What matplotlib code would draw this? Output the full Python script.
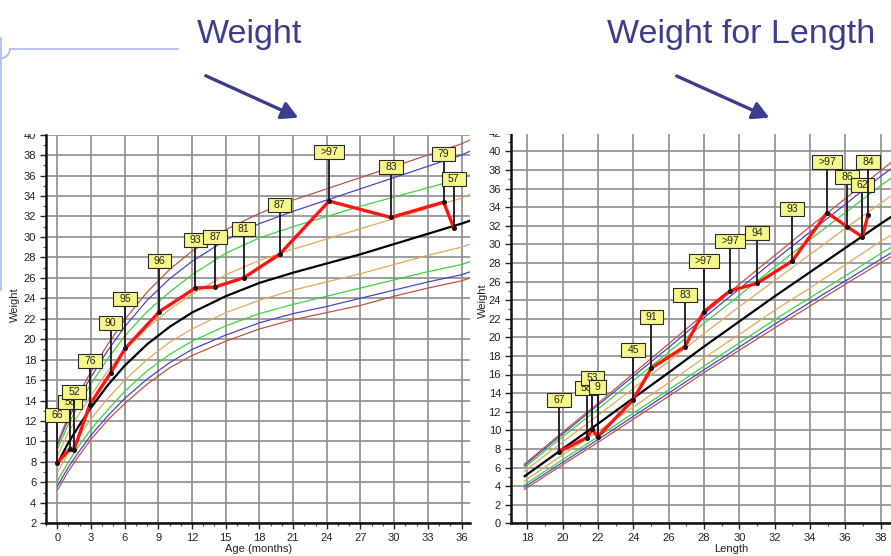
import matplotlib
matplotlib.use("Agg")
import matplotlib.pyplot as plt
import matplotlib.transforms as mtransforms
from matplotlib.patches import Rectangle, FancyArrowPatch, Arc
from matplotlib.ticker import MultipleLocator
from matplotlib.lines import Line2D

plt.rcParams['font.family'] = ['Liberation Sans', 'DejaVu Sans']

# ---------------- Weight-for-age percentile curves (lb) ----------------
age_grid = [0, 1, 2, 3, 4.5, 6, 8, 10, 12, 15, 18, 21, 24, 27, 30, 33, 36, 36.8]
wfa_p3  = [5.2, 7.1, 8.7, 10.2, 12.1, 13.7, 15.6, 17.2, 18.4, 19.8, 21.0, 21.9, 22.6, 23.3, 24.2, 25.0, 25.7, 26.0]
wfa_p5  = [5.6, 7.5, 9.1, 10.6, 12.5, 14.2, 16.1, 17.7, 19.0, 20.4, 21.6, 22.5, 23.2, 24.0, 24.8, 25.6, 26.3, 26.6]
wfa_p10 = [6.1, 8.0, 9.7, 11.2, 13.1, 14.9, 16.9, 18.5, 19.8, 21.3, 22.5, 23.4, 24.2, 25.0, 25.8, 26.6, 27.3, 27.6]
wfa_p25 = [6.95, 8.9, 10.6, 12.2, 14.2, 16.0, 18.0, 19.7, 21.0, 22.6, 23.8, 24.8, 25.6, 26.4, 27.3, 28.2, 29.0, 29.3]
wfa_p50 = [7.8, 9.9, 11.65, 13.3, 15.5, 17.4, 19.5, 21.2, 22.6, 24.2, 25.5, 26.5, 27.4, 28.3, 29.3, 30.3, 31.3, 31.6]
wfa_p75 = [8.55, 10.9, 12.8, 14.5, 16.9, 18.9, 21.1, 22.9, 24.4, 26.3, 27.7, 28.8, 29.8, 30.8, 31.8, 32.8, 33.8, 34.2]
wfa_p90 = [9.2, 11.7, 13.8, 15.6, 18.1, 20.3, 22.7, 24.6, 26.3, 28.4, 29.9, 31.0, 32.0, 33.0, 33.9, 34.8, 35.7, 36.1]
wfa_p95 = [9.6, 12.2, 14.4, 16.3, 18.9, 21.2, 23.8, 25.9, 27.6, 29.7, 31.3, 32.5, 33.6, 34.7, 35.8, 36.9, 38.0, 38.4]
wfa_p97 = [9.8, 12.5, 14.8, 16.8, 19.5, 21.9, 24.6, 26.8, 28.6, 30.7, 32.3, 33.6, 34.7, 35.8, 36.9, 38.0, 39.1, 39.5]

# Patient measurements: age (months), weight (lb), percentile tag, tag height (lb)
visit_age   = [0, 1.15, 1.5, 2.9, 4.75, 6.05, 9.1, 12.3, 14.05, 16.6, 19.8, 24.2, 29.7, 34.4, 35.3]
visit_wt    = [7.9, 9.3, 9.2, 13.6, 16.7, 19.1, 22.7, 25.0, 25.1, 26.0, 28.3, 33.5, 31.9, 33.4, 30.9]
visit_pct   = ["66", "58", "52", "76", "90", "95", "96", "93", "87", "81", "87", ">97", "83", "79", "57"]
visit_tag_y = [12.6, 13.9, 14.85, 17.9, 21.6, 23.95, 27.6, 29.7, 29.95, 30.8, 33.1, 38.3, 36.8, 38.1, 35.7]

# ---------------- Weight-for-length percentile curves (lb) ----------------
len_grid = [17.8, 20, 22, 24, 26, 28, 30, 32, 34, 36, 38, 38.8]
wfl_p3  = [3.6, 6.3, 8.7, 11.2, 13.65, 16.2, 18.6, 21.0, 23.35, 25.7, 28.0, 28.9]
wfl_p5  = [3.85, 6.55, 9.0, 11.5, 14.0, 16.5, 18.95, 21.4, 23.75, 26.05, 28.4, 29.3]
wfl_p10 = [4.1, 6.85, 9.3, 11.85, 14.35, 16.9, 19.4, 21.9, 24.25, 26.6, 29.0, 29.9]
wfl_p25 = [4.5, 7.35, 9.9, 12.5, 15.1, 17.8, 20.3, 22.9, 25.3, 27.8, 30.3, 31.2]
wfl_p50 = [5.0, 8.0, 10.7, 13.45, 16.2, 19.0, 21.7, 24.4, 27.0, 29.6, 32.2, 33.2]
wfl_p75 = [5.55, 8.75, 11.6, 14.5, 17.4, 20.4, 23.3, 26.1, 28.9, 31.7, 34.4, 35.5]
wfl_p90 = [5.95, 9.3, 12.3, 15.35, 18.4, 21.5, 24.5, 27.55, 30.5, 33.4, 36.3, 37.4]
wfl_p95 = [6.15, 9.6, 12.7, 15.8, 18.9, 22.1, 25.2, 28.3, 31.3, 34.3, 37.3, 38.4]
wfl_p97 = [6.3, 9.8, 12.9, 16.1, 19.3, 22.5, 25.7, 28.8, 31.9, 34.9, 37.9, 39.1]

visit_len     = [19.8, 21.36, 21.68, 21.98, 24.0, 25.03, 26.92, 27.99, 29.47, 31.0, 33.0, 34.97, 36.1, 36.97, 37.29]
visit_wt_l    = [7.7, 9.2, 10.1, 9.3, 13.3, 16.7, 19.0, 22.75, 24.98, 25.8, 28.2, 33.4, 31.9, 30.8, 33.15]
visit_pct_l   = ["67", "58", "53", "9", "45", "91", "83", ">97", ">97", "94", "93", ">97", "86", "62", "84"]
visit_tag_y_l = [13.3, 14.55, 15.6, 14.7, 18.6, 22.2, 24.5, 28.2, 30.35, 31.25, 33.8, 38.9, 37.2, 36.4, 38.8]

# ---------------- styling ----------------
C_BROWN = '#bc5448'
C_BLUE = '#4b46c8'
C_GREEN = '#3fd23f'
C_ORANGE = '#e6a856'
C_TITLE = '#3b3e8c'
GRID = '#8e8e8e'

W, H = 891, 556
fig = plt.figure(figsize=(W / 100, H / 100), dpi=100)


def fbox(x0, y0, x1, y1):
    """pixel box (top-left origin) -> figure fraction rect"""
    return [x0 / W, 1 - y1 / H, (x1 - x0) / W, (y1 - y0) / H]


def style_axes(ax, xmaj, xmin_step, ymaj):
    for s in ('top', 'right'):
        ax.spines[s].set_visible(False)
    for s in ('left', 'bottom'):
        ax.spines[s].set_linewidth(1.8)
        ax.spines[s].set_color('#111111')
    ax.xaxis.set_major_locator(MultipleLocator(xmaj))
    ax.xaxis.set_minor_locator(MultipleLocator(xmin_step))
    ax.yaxis.set_major_locator(MultipleLocator(ymaj))
    ax.yaxis.set_minor_locator(MultipleLocator(1))
    ax.grid(True, which='major', color=GRID, lw=1.2, zorder=0)
    ax.set_axisbelow(True)
    ax.tick_params(which='major', length=4, width=1, labelsize=8, colors='#222222', pad=3)
    ax.tick_params(which='minor', length=2, width=0.8, colors='#555555')


def draw_curves(ax, xs, curves):
    for ys, col, lw in curves:
        ax.plot(xs, ys, color=col, lw=lw, zorder=2, solid_capstyle='butt')


def draw_visits(ax, xs, ys, tags, tag_ys):
    ax.plot(xs, ys, color='#ff1414', lw=2.4, zorder=4, solid_joinstyle='round')
    ax.plot(xs, ys, 'o', color='#111111', ms=2.6, zorder=5)
    for i, (x, y, t, ty) in enumerate(zip(xs, ys, tags, tag_ys)):
        z = 6 + i * 0.01
        ax.plot([x, x], [y, ty], color='#1c1424', lw=1.3, zorder=z, clip_on=False)
        wpx = 11 + 6.3 * len(t)
        hpx = 14
        trans = fig.dpi_scale_trans + mtransforms.ScaledTranslation(x, ty, ax.transData)
        ax.add_patch(Rectangle((-wpx / 200, -hpx / 200), wpx / 100, hpx / 100,
                               transform=trans, facecolor='#f6f68a', edgecolor='#2a2a2a',
                               lw=0.8, zorder=z + 0.001, clip_on=False))
        ax.text(x, ty, t, transform=ax.transData, ha='center', va='center',
                fontsize=7.5, color='#222222', zorder=z + 0.002, clip_on=False)


# ---------------- Weight for age ----------------
ax1 = fig.add_axes(fbox(46, 134.6, 470, 523.3))
ax1.set_xlim(-1, 36.75)
ax1.set_ylim(2, 40)
style_axes(ax1, 3, 1, 2)
draw_curves(ax1, age_grid, [
    (wfa_p3, C_BROWN, 0.9), (wfa_p5, C_BLUE, 0.9), (wfa_p10, C_GREEN, 0.9),
    (wfa_p25, C_ORANGE, 0.9), (wfa_p75, C_ORANGE, 0.9), (wfa_p90, C_GREEN, 0.9),
    (wfa_p95, C_BLUE, 0.9), (wfa_p97, C_BROWN, 0.9), (wfa_p50, '#000000', 1.6),
])
draw_visits(ax1, visit_age, visit_wt, visit_pct, visit_tag_y)
ax1.set_xlabel('Age (months)', fontsize=8, color='#222222')
ax1.xaxis.set_label_coords(0.502, -0.053)
ax1.set_ylabel('Weight', fontsize=8, color='#222222')
ax1.yaxis.set_label_coords(-0.062, 0.562)

# ---------------- Weight for length ----------------
ax2 = fig.add_axes(fbox(510.7, 132.7, 891, 523.3))
ax2.set_xlim(17.06, 38.59)
ax2.set_ylim(0, 42)
style_axes(ax2, 2, 1, 2)
draw_curves(ax2, len_grid, [
    (wfl_p3, C_BROWN, 0.9), (wfl_p5, C_BLUE, 0.9), (wfl_p10, C_GREEN, 0.9),
    (wfl_p25, C_ORANGE, 0.9), (wfl_p75, C_ORANGE, 0.9), (wfl_p90, C_GREEN, 0.9),
    (wfl_p95, C_BLUE, 0.9), (wfl_p97, C_BROWN, 0.9), (wfl_p50, '#000000', 1.6),
])
draw_visits(ax2, visit_len, visit_wt_l, visit_pct_l, visit_tag_y_l)
ax2.set_xlabel('Length', fontsize=8, color='#222222')
ax2.xaxis.set_label_coords(0.579, -0.053)
ax2.set_ylabel('Weight', fontsize=8, color='#222222')
ax2.yaxis.set_label_coords(-0.059, 0.569)

# white band trimming the tops of both charts
fig.add_artist(Rectangle((0, 1 - 133.5 / H), 1, 13 / H, transform=fig.transFigure,
                         facecolor='white', edgecolor='none', zorder=20))

# ---------------- headings and pointers ----------------
fig.text(197 / W, 1 - 42.7 / H, 'Weight', fontsize=24.5, color=C_TITLE,
         ha='left', va='baseline', zorder=30)
fig.text(606.7 / W, 1 - 43.3 / H, 'Weight for Length', fontsize=24.5, color=C_TITLE,
         ha='left', va='baseline', zorder=30)
for (x0, y0), (x1, y1) in [((205.7, 75.7), (298.3, 117.7)), ((676.7, 76), (769.3, 117.7))]:
    fig.add_artist(FancyArrowPatch((x0 / W, 1 - y0 / H), (x1 / W, 1 - y1 / H),
                                   transform=fig.transFigure,
                                   arrowstyle='-|>,head_length=0.55,head_width=0.3',
                                   mutation_scale=18, lw=2.4, color=C_TITLE,
                                   shrinkA=0, shrinkB=0, zorder=30))

# slide ornament in the corner
fig.add_artist(Line2D([10 / W, 178 / W], [1 - 48.5 / H, 1 - 48.5 / H], transform=fig.transFigure,
                      color='#a9b6f4', lw=1.2, zorder=30))
fig.add_artist(Line2D([1 / W, 1 / W], [1 - 38 / H, 1 - 290 / H], transform=fig.transFigure,
                      color='#a9b6f4', lw=1.2, zorder=30))
fig.add_artist(Arc((0, 1 - 48.5 / H), 20 / W, 20 / H, theta1=270, theta2=360,
                   transform=fig.transFigure, color='#a9b6f4', lw=1.2, zorder=30))

fig.savefig('out.png', dpi=100)
